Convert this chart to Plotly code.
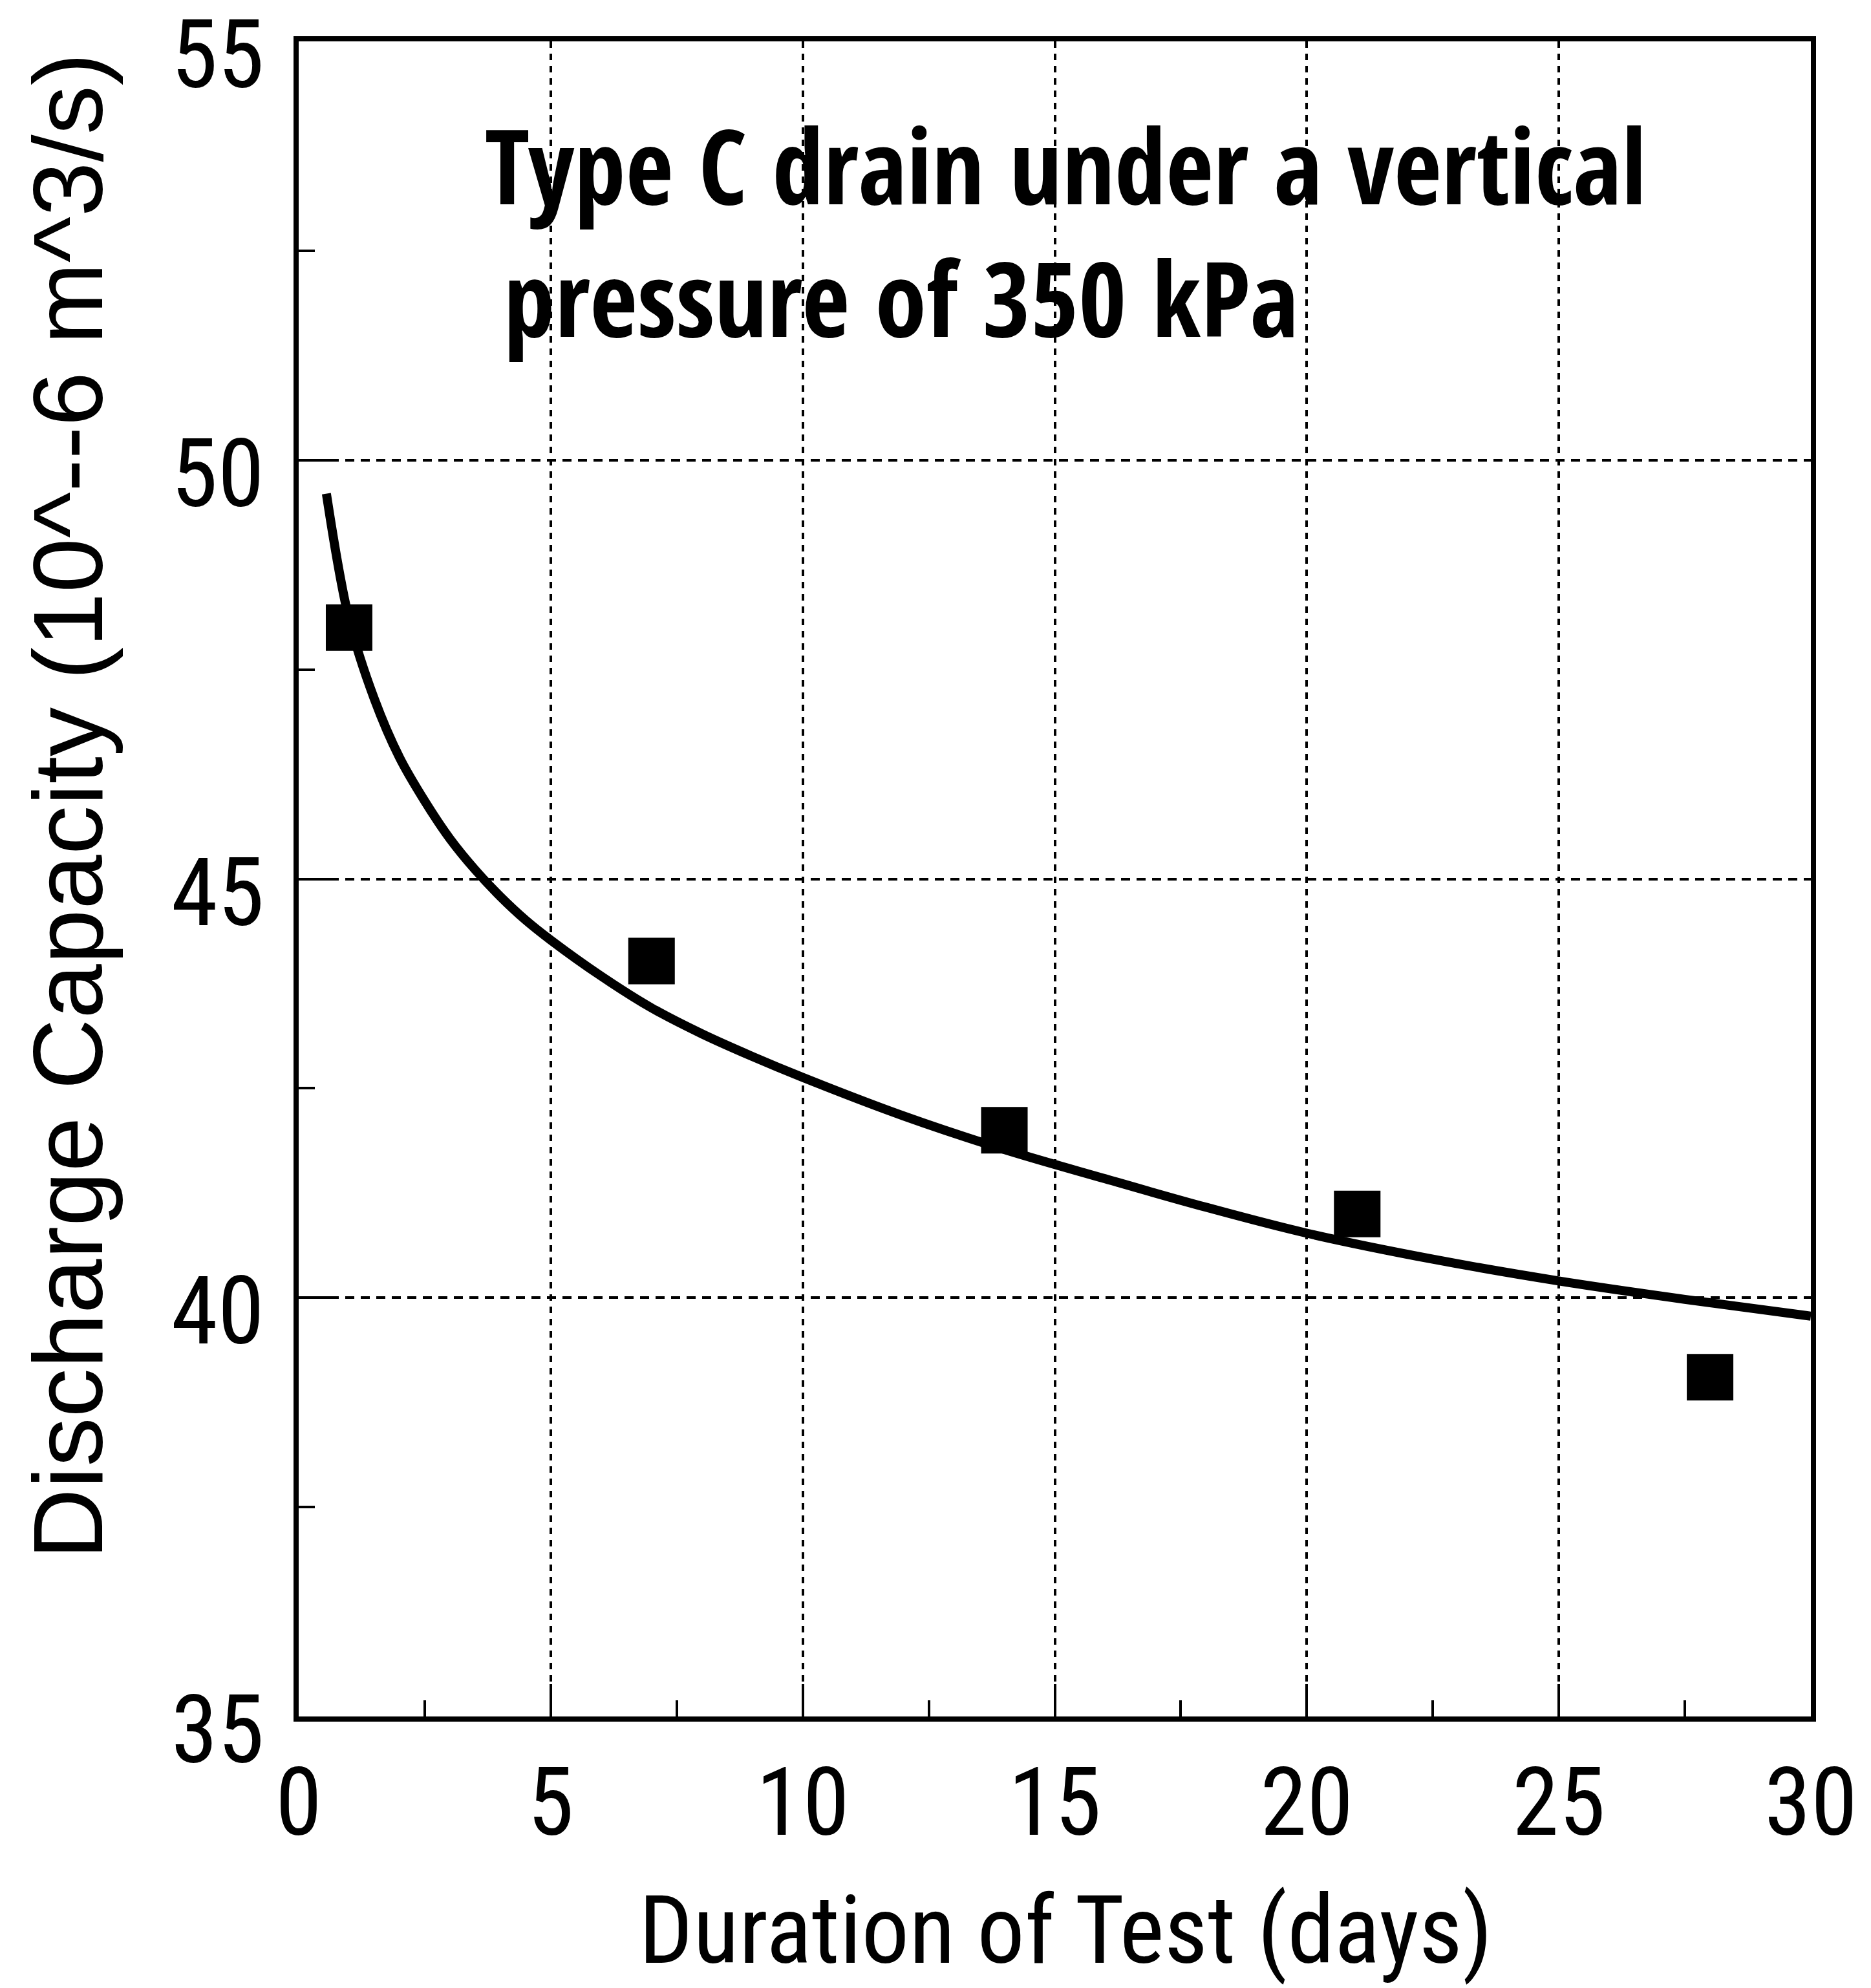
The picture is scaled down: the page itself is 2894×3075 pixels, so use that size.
import plotly.graph_objects as go

# Measured data points (days, discharge capacity 10^-6 m^3/s)
days = [1, 7, 14, 21, 28]
capacity = [48.0, 44.02, 42.0, 41.0, 39.05]

# Fitted trend curve
curve_days = [0.55, 1, 1.5, 2, 2.5, 3, 3.5, 4, 4.5, 5, 6, 7, 8, 9, 10,
              12, 14, 16, 18, 20, 22.5, 25, 27.5, 30]
curve_capacity = [49.6, 48.1, 47.15, 46.45, 45.93, 45.48, 45.11, 44.79, 44.51, 44.27, 43.84, 43.46, 43.15, 42.88, 42.63,
                  42.17, 41.77, 41.42, 41.08, 40.77, 40.46, 40.2, 39.98, 39.78]

x_ticks = [0, 5, 10, 15, 20, 25, 30]
y_ticks = [35, 40, 45, 50, 55]

x_title = "Duration of Test (days)"
y_title = "Discharge Capacity (10^--6 m^3/s)"
note_line1 = "Type C drain under a vertical"
note_line2 = "pressure of 350 kPa"

NARROW = "Roboto Condensed, DejaVu Sans Condensed, Liberation Sans"
NOTE = "Open Sans Condensed, Roboto Condensed, DejaVu Sans Condensed"
REGULAR = "Liberation Sans, Arial, DejaVu Sans"

fig = go.Figure()
fig.add_trace(go.Scatter(
    x=curve_days, y=curve_capacity, mode="lines",
    line=dict(color="black", width=14, shape="spline", smoothing=1.0),
    showlegend=False, hoverinfo="skip",
))
fig.add_trace(go.Scatter(
    x=days, y=capacity, mode="markers",
    marker=dict(symbol="square", size=72, color="black", line=dict(width=0)),
    showlegend=False,
))

W, H = 2894, 3075
L, R, T, B = 462, 2801, 64, 2655

axis_common = dict(
    showline=True, linecolor="black", linewidth=8, mirror=True,
    ticks="inside", ticklen=50, tickwidth=4, tickcolor="black",
    showgrid=True, gridcolor="black", gridwidth=4,
    zeroline=False, ticklabeloverflow="allow", automargin=False,
    tickfont=dict(family=NARROW, size=146, color="black"),
)
minor_common = dict(dtick=2.5, ticks="inside", ticklen=25, tickwidth=4, tickcolor="black", showgrid=False)

fig.update_xaxes(
    range=[0, 30], tickvals=x_ticks, ticktext=[str(v) for v in x_ticks],
    ticklabelstandoff=0, griddash="10px,9px", minor=minor_common,
    **axis_common,
)
fig.update_yaxes(
    range=[35, 55], tickvals=y_ticks, ticktext=[str(v) for v in y_ticks],
    ticklabelstandoff=16, ticklabelshift=20, griddash="14px,10px", minor=minor_common,
    **axis_common,
)

pw, ph = R - L, B - T

def px_x(px):
    return (px - L) / pw

def px_y(py):
    return 1 - (py - T) / ph

annotations = [
    dict(text=note_line1, x=px_x(748), y=px_y(254), xref="paper", yref="paper",
         xanchor="left", yanchor="middle", showarrow=False,
         font=dict(family=NOTE, size=160, color="black", weight="bold")),
    dict(text=note_line2, x=px_x(777), y=px_y(459), xref="paper", yref="paper",
         xanchor="left", yanchor="middle", showarrow=False,
         font=dict(family=NOTE, size=160, color="black", weight="bold")),
    dict(text=x_title, x=px_x(1648), y=px_y(2986), xref="paper", yref="paper",
         xanchor="center", yanchor="middle", showarrow=False,
         font=dict(family=NARROW, size=147, color="black")),
    dict(text=y_title, x=px_x(105), y=px_y(1247), xref="paper", yref="paper",
         xanchor="center", yanchor="middle", showarrow=False, textangle=-90,
         font=dict(family=REGULAR, size=152, color="black")),
]

fig.update_layout(
    width=W, height=H,
    margin=dict(l=L, r=W - R, t=T, b=H - B, pad=0, autoexpand=False),
    paper_bgcolor="white", plot_bgcolor="white",
    showlegend=False,
    annotations=annotations,
)

fig.write_html("out.html")
